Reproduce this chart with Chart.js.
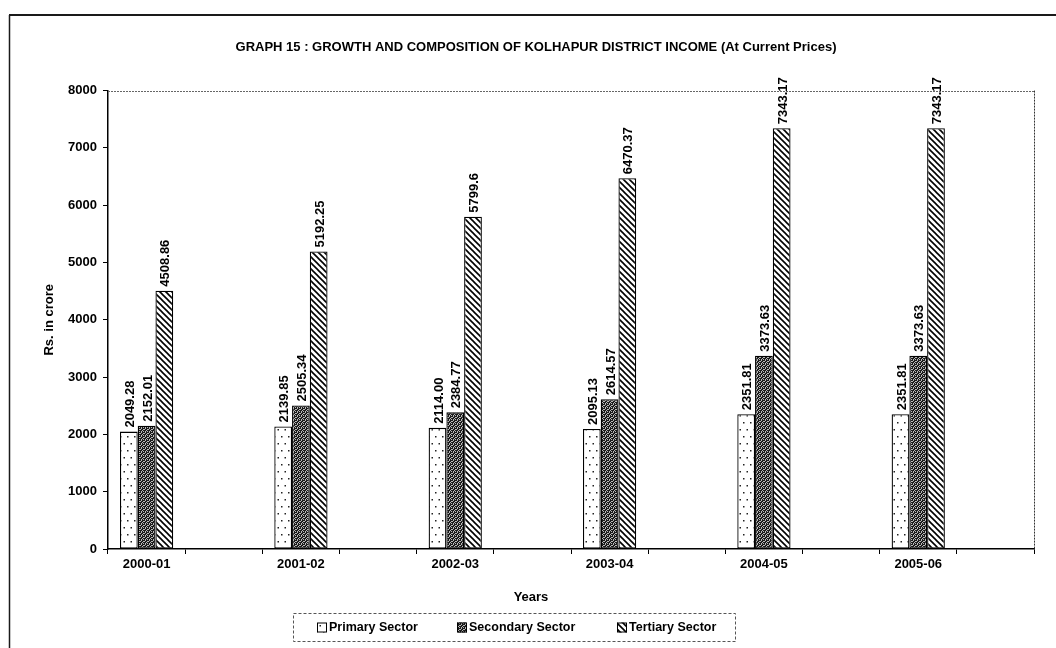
<!DOCTYPE html>
<html>
<head>
<meta charset="utf-8">
<script src="https://cdn.jsdelivr.net/npm/chart.js@4.4.1/dist/chart.umd.min.js"></script>
<style>
  html, body { margin: 0; padding: 0; background: #fff; }
  #wrap { width: 1056px; height: 648px; position: relative; }
</style>
</head>
<body>
<div id="wrap"><canvas id="chart" width="1056" height="648"></canvas></div>
<script>
// Kolhapur district income by sector (Rs. in crore, current prices)
const years = ['2000-01', '2001-02', '2002-03', '2003-04', '2004-05', '2005-06'];
const primarySector = [2049.28, 2139.85, 2114.00, 2095.13, 2351.81, 2351.81];
const secondarySector = [2152.01, 2505.34, 2384.77, 2614.57, 3373.63, 3373.63];
const tertiarySector = [4508.86, 5192.25, 5799.6, 6470.37, 7343.17, 7343.17];
const seriesNames = ['Primary Sector', 'Secondary Sector', 'Tertiary Sector'];
const yTickValues = [0, 1000, 2000, 3000, 4000, 5000, 6000, 7000, 8000];
const chartTitle = 'GRAPH 15 : GROWTH AND COMPOSITION OF KOLHAPUR DISTRICT INCOME (At Current Prices)';
const xTitle = 'Years';
const yTitle = 'Rs. in crore';

const FONT = '"Liberation Sans", Arial, Helvetica, sans-serif';

// Each year occupies one slot followed by an empty spacer slot.
const slotLabels = [];
years.forEach(y => { slotLabels.push(y); slotLabels.push(''); });
const toSlots = arr => {
  const out = [];
  arr.forEach(v => { out.push(v); out.push(null); });
  return out;
};

// ---- fill patterns ----
function makeTile(w, h, paint) {
  const c = document.createElement('canvas');
  c.width = w; c.height = h;
  const g = c.getContext('2d');
  paint(g, w, h);
  return document.createElement('canvas').getContext('2d').createPattern(c, 'repeat');
}
const dotPattern = makeTile(7, 14, (g, w, h) => {
  g.fillStyle = '#fff'; g.fillRect(0, 0, w, h);
  g.fillStyle = '#222';
  g.fillRect(1, 2, 1.5, 1.5);
  g.fillRect(4.5, 9, 1.5, 1.5);
});
const stipplePattern = makeTile(4, 4, (g, w, h) => {
  const map = ['1011', '0110', '1101', '1010'];
  for (let y = 0; y < 4; y++) for (let x = 0; x < 4; x++) {
    g.fillStyle = map[y][x] === '1' ? '#1a1a1a' : '#b8b8b8';
    g.fillRect(x, y, 1, 1);
  }
});
const hatchPattern = makeTile(6, 6, (g, w, h) => {
  g.fillStyle = '#fff'; g.fillRect(0, 0, w, h);
  g.strokeStyle = '#000'; g.lineWidth = 1.6;
  for (const k of [-6, 0, 6]) {
    g.beginPath(); g.moveTo(k - 1, -1); g.lineTo(k + 7, 7); g.stroke();
  }
});
const fills = [dotPattern, stipplePattern, hatchPattern];

// value label formatting per series
const fmt = [v => v.toFixed(2), v => v.toFixed(2), v => String(v)];

const decorations = {
  id: 'decorations',
  afterDatasetsDraw(chart) {
    const { ctx } = chart;
    ctx.save();
    ctx.fillStyle = '#000';
    ctx.font = 'bold 13px ' + FONT;
    ctx.textAlign = 'left';
    ctx.textBaseline = 'middle';
    chart.data.datasets.forEach((ds, i) => {
      const meta = chart.getDatasetMeta(i);
      meta.data.forEach((el, j) => {
        const v = ds.data[j];
        if (v === null || v === undefined) return;
        ctx.save();
        ctx.translate(el.x + 1.5, el.y - 4);
        ctx.rotate(-Math.PI / 2);
        ctx.fillText(fmt[i](v), 0, 0);
        ctx.restore();
      });
    });
    ctx.restore();
  },
  afterDraw(chart) {
    const { ctx, chartArea: a } = chart;
    ctx.save();
    // page frame
    ctx.strokeStyle = '#1a1a1a';
    ctx.lineWidth = 2;
    ctx.beginPath(); ctx.moveTo(9, 15); ctx.lineTo(1056, 15); ctx.stroke();
    ctx.lineWidth = 1.5;
    ctx.beginPath(); ctx.moveTo(9.5, 15); ctx.lineTo(9.5, 648); ctx.stroke();

    // plot area outline (top and right)
    ctx.lineWidth = 1;
    ctx.strokeStyle = '#666';
    ctx.setLineDash([2, 1]);
    ctx.beginPath(); ctx.moveTo(a.left, Math.round(a.top) + 0.5); ctx.lineTo(a.right, Math.round(a.top) + 0.5); ctx.stroke();
    ctx.strokeStyle = '#333';
    ctx.beginPath(); ctx.moveTo(Math.round(a.right) + 0.5, a.top); ctx.lineTo(Math.round(a.right) + 0.5, a.bottom); ctx.stroke();
    ctx.setLineDash([]);

    // x-axis title
    ctx.fillStyle = '#000';
    ctx.font = 'bold 13px ' + FONT;
    ctx.textAlign = 'center';
    ctx.textBaseline = 'middle';
    ctx.fillText(xTitle, 531, 597);

    // legend
    const lx = 293, ly = 613, lw = 442, lh = 28;
    ctx.strokeStyle = '#555';
    ctx.lineWidth = 1;
    ctx.setLineDash([3, 2]);
    ctx.strokeRect(lx + 0.5, ly + 0.5, lw, lh);
    ctx.setLineDash([]);
    const itemX = [317, 457, 617];
    ctx.font = 'bold 12.5px ' + FONT;
    ctx.textAlign = 'left';
    seriesNames.forEach((name, i) => {
      const bx = itemX[i], by = ly + lh / 2 - 4.5;
      ctx.fillStyle = fills[i];
      ctx.fillRect(bx, by, 10, 10);
      ctx.strokeStyle = '#000';
      ctx.lineWidth = 1;
      ctx.strokeRect(bx + 0.5, by + 0.5, 9, 9);
      ctx.fillStyle = '#000';
      ctx.fillText(name, bx + 12, ly + lh / 2 + 1);
    });
    ctx.restore();
  }
};

const series = [primarySector, secondarySector, tertiarySector];

new Chart(document.getElementById('chart'), {
  type: 'bar',
  data: {
    labels: slotLabels,
    datasets: series.map((vals, i) => ({
      label: seriesNames[i],
      data: toSlots(vals),
      backgroundColor: fills[i],
      borderColor: '#000',
      borderWidth: 1.3,
      borderSkipped: false,
      categoryPercentage: 0.69,
      barPercentage: 1.0
    }))
  },
  options: {
    responsive: false,
    animation: false,
    devicePixelRatio: 1,
    layout: { padding: { left: 38, right: 22, top: 0, bottom: 43 } },
    plugins: {
      legend: { display: false },
      tooltip: { enabled: false },
      title: {
        display: true,
        text: chartTitle,
        color: '#000',
        font: { family: FONT, size: 13, weight: 'bold' },
        padding: { top: 40, bottom: 35 }
      }
    },
    scales: {
      x: {
        grid: { display: true, drawOnChartArea: false, drawTicks: true, tickLength: 5, color: '#000', offset: true },
        border: { display: true, color: '#000', width: 1.5 },
        ticks: {
          autoSkip: false, maxRotation: 0, minRotation: 0, padding: 3,
          color: '#000', font: { family: FONT, size: 13, weight: 'bold' }
        },
        afterFit(s) { s.height = 56; }
      },
      y: {
        min: 0, max: 8000,
        afterBuildTicks(s) { s.ticks = yTickValues.map(v => ({ value: v })); },
        grid: { display: true, drawOnChartArea: false, drawTicks: true, tickLength: 5, color: '#000' },
        border: { display: true, color: '#000', width: 1.5 },
        ticks: {
          padding: 6, color: '#000', font: { family: FONT, size: 13, weight: 'bold' },
          callback: v => String(v)
        },
        title: {
          display: true, text: yTitle, color: '#000',
          font: { family: FONT, size: 13, weight: 'bold' },
          padding: { top: 4, bottom: 4 }
        },
        afterFit(s) { s.width = 70; }
      }
    }
  },
  plugins: [decorations]
});
</script>
</body>
</html>
